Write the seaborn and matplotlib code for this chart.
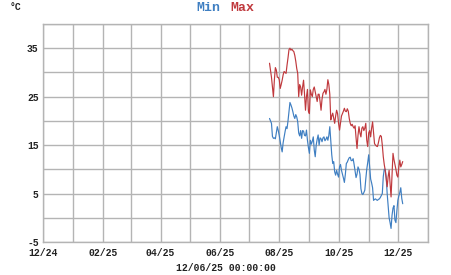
import matplotlib
matplotlib.use("Agg")
import matplotlib.pyplot as plt
import matplotlib.dates as mdates
import seaborn as sns
import pandas as pd
import numpy as np

start_date = "2025-07-22"
min_vals = [20.5, 20.0, 19.5, 16.8, 16.4, 16.5, 16.3, 17.5, 18.8, 18.0,
            17.0, 15.7, 14.5, 13.6, 15.5, 16.7, 17.8, 18.8, 18.4, 20.0,
            21.9, 23.8, 23.3, 22.7, 21.9, 21.0, 20.5, 21.3, 20.8, 19.8,
            17.5, 16.9, 18.0, 16.4, 18.0, 17.9, 17.0, 16.9, 18.1, 16.0,
            14.5, 13.3, 16.0, 15.2, 15.8, 16.7, 14.0, 12.6, 15.0, 16.2,
            17.1, 15.0, 16.5, 16.3, 15.7, 16.5, 16.7, 15.9, 16.2, 16.7,
            16.0, 17.0, 18.8, 16.0, 13.0, 11.2, 11.6, 9.5, 8.8, 9.8,
            9.0, 8.4, 10.5, 11.0, 9.8, 9.0, 8.2, 7.3, 9.0, 11.2,
            11.5, 12.0, 12.4, 12.5, 11.8, 11.8, 12.2, 11.0, 9.6, 8.3,
            9.0, 10.5, 10.0, 9.0, 6.0, 5.0, 4.8, 5.2, 5.7, 8.0,
            10.0, 11.4, 13.0, 10.5, 8.0, 7.2, 6.2, 3.6, 3.8, 3.9,
            3.7, 3.6, 3.8, 3.9, 4.2, 4.6, 5.0, 8.5, 10.0, 10.0,
            8.4, 5.0, 2.5, 0.0, -1.0, -2.2, 0.5, 2.0, 2.5, -0.5,
            -1.0, 1.5, 3.6, 4.5, 5.2, 6.2, 4.0, 2.9]
max_vals = [31.9, 30.5, 29.0, 27.0, 25.0, 28.5, 31.0, 30.5, 29.0, 29.0,
            28.5, 26.7, 27.5, 28.4, 29.5, 30.2, 30.0, 29.8, 31.5, 33.0,
            34.7, 35.0, 34.6, 34.8, 34.5, 34.3, 33.5, 32.3, 30.8, 29.8,
            25.0, 27.5, 27.0, 25.3, 27.0, 28.4, 25.5, 22.2, 25.0, 26.5,
            22.0, 21.5, 26.4, 25.5, 25.0, 26.5, 27.0, 26.0, 25.0, 24.0,
            25.5, 25.5, 24.0, 22.2, 24.5, 25.7, 26.0, 26.5, 25.5, 26.5,
            28.5, 27.5, 25.5, 20.2, 21.0, 21.6, 20.5, 19.5, 21.0, 22.2,
            21.5, 19.5, 18.1, 19.5, 21.0, 21.5, 22.0, 22.6, 22.0, 21.9,
            22.5, 22.0, 20.5, 19.5, 19.0, 19.3, 18.8, 18.5, 19.0, 16.5,
            14.3, 17.0, 18.8, 17.5, 16.7, 18.5, 18.8, 18.0, 18.5, 19.5,
            16.0, 14.7, 17.5, 18.0, 16.7, 18.5, 19.8, 17.5, 15.3, 15.0,
            14.8, 14.7, 15.5, 16.5, 17.0, 16.8, 15.0, 12.6, 11.0, 9.8,
            8.0, 6.4, 8.5, 9.8, 7.0, 4.3, 9.0, 13.3, 12.0, 11.0,
            10.0, 8.8, 8.4, 10.5, 11.9, 10.5, 11.0, 11.6]
series_names = ["Min", "Max"]
series_colors = ["#3f7fc2", "#c0393d"]
y_tick_values = [-5, 0, 5, 10, 15, 20, 25, 30, 35, 40]
y_tick_labels = ["-5", "", "5", "", "15", "", "25", "", "35", ""]
x_label_months = ["2024-12-01", "2025-02-01", "2025-04-01", "2025-06-01",
                  "2025-08-01", "2025-10-01", "2025-12-01"]
unit_label = "°C"
timestamp_label = "12/06/25 00:00:00"

dates = pd.date_range(start_date, periods=len(min_vals), freq="D")
df = pd.concat([
    pd.DataFrame({"date": dates, "value": min_vals, "series": "Min"}),
    pd.DataFrame({"date": dates, "value": max_vals, "series": "Max"}),
])

sns.set_theme(style="white")
mono = ["Liberation Mono", "DejaVu Sans Mono"]
plt.rcParams["font.family"] = mono

fig = plt.figure(figsize=(4.51, 2.75), dpi=100)
ax = fig.add_axes([43/451, 1-242/275, (428-43)/451, (242-24)/275])

sns.lineplot(data=df, x="date", y="value", hue="series",
             palette=dict(zip(series_names, series_colors)),
             linewidth=0.85, ax=ax, legend=False)

ax.set_xlim(pd.Timestamp("2024-12-01"), pd.Timestamp("2026-01-01"))
ax.set_ylim(-5, 40)
months = pd.date_range("2024-12-01", "2026-01-01", freq="MS")
label_set = set(pd.to_datetime(x_label_months))
ax.set_xticks(months)
ax.set_xticklabels([m.strftime("%m/%y") if m in label_set else "" for m in months])
ax.set_yticks(y_tick_values)
ax.set_yticklabels(y_tick_labels)

ax.grid(True, color="#b4b4b4", linewidth=1.0)
for s in ax.spines.values():
    s.set_color("#b4b4b4")
    s.set_linewidth(1.0)
ax.tick_params(axis="y", length=0, pad=3, labelsize=7, labelcolor="#222222")
ax.tick_params(axis="x", length=0, pad=4, labelsize=7, labelcolor="#222222")
for lbl in ax.get_xticklabels() + ax.get_yticklabels():
    lbl.set_fontweight("bold")
ax.set_xlabel("")
ax.set_ylabel("")

fig.text(10/451, 1-7/275, unit_label, fontsize=7, fontweight="bold",
         color="#222222", ha="left", va="center", family=mono)
fig.text(0.5, 1-268/275, timestamp_label, fontsize=7, fontweight="bold",
         color="#222222", ha="center", va="center", family=mono)
fig.text(208/451, 1-8/275, "Min", fontsize=9.5, fontweight="bold",
         color=series_colors[0], ha="center", va="center", family=mono)
fig.text(242/451, 1-8/275, "Max", fontsize=9.5, fontweight="bold",
         color=series_colors[1], ha="center", va="center", family=mono)

fig.savefig("out.png", dpi=100)
